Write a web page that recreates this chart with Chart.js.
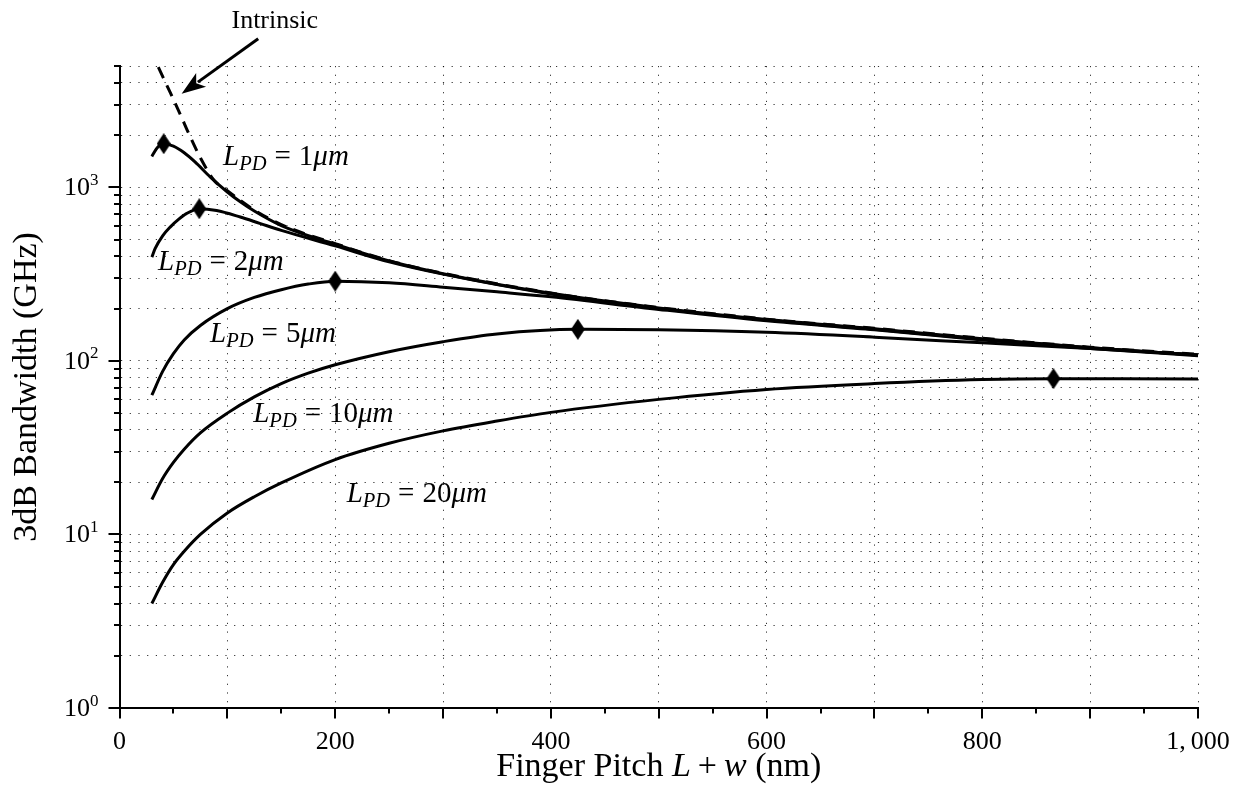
<!DOCTYPE html>
<html>
<head>
<meta charset="utf-8">
<script src="https://cdn.jsdelivr.net/npm/chart.js@4.4.0/dist/chart.umd.min.js"></script>
<style>
  html, body { margin: 0; padding: 0; background: #fff; }
  #wrap { width: 1241px; height: 789px; }
</style>
</head>
<body>
<div id="wrap"><canvas id="bw" width="1241" height="789"></canvas></div>
<script>
// values: finger pitch (nm) -> 3dB bandwidth (GHz)
const intrinsicPitch = [36, 47, 56, 65, 75, 88, 100, 125, 150, 200, 250, 300, 400, 500, 600, 700, 800, 900, 1000];
const intrinsicBw    = [4920, 3520, 2660, 1990, 1480, 1090, 955, 740, 610, 474, 378, 320, 246, 203, 174, 154, 135, 120, 109];

const l1Pitch = [30, 35, 41, 50, 60, 70, 84, 100, 112, 125, 150, 200, 250, 300, 400, 500, 600, 700, 800, 900, 1000];
const l1Bw    = [1506, 1690, 1783, 1725, 1580, 1400, 1150, 940, 825, 730, 602, 470, 376, 318, 245, 202, 173, 153, 134, 119, 108];

const l2Pitch = [30, 33, 40, 47, 55, 62, 74, 90, 112, 130, 150, 200, 250, 300, 400, 500, 600, 700, 800, 900, 1000];
const l2Bw    = [396, 443, 525, 590, 655, 705, 753, 735, 674, 620, 565, 460, 372, 316, 243, 200, 172, 152, 133, 119, 108];

const l5Pitch = [30, 40, 50, 60, 75, 100, 125, 150, 175, 200, 250, 300, 350, 400, 500, 600, 700, 800, 900, 1000];
const l5Bw    = [63.4, 87, 110, 132, 160, 200, 232, 257, 277, 288, 282, 266, 250, 234, 198, 170, 151, 132, 118, 107];

const l10Pitch = [30, 40, 50, 60, 75, 100, 125, 150, 175, 200, 250, 300, 350, 425, 500, 600, 700, 800, 900, 1000];
const l10Bw    = [15.9, 21, 26, 31, 38.5, 50, 62, 74, 85, 95, 113, 129, 143, 152, 151, 146, 137, 127, 118, 108];

const l20Pitch = [30, 40, 50, 60, 75, 100, 125, 150, 200, 250, 300, 350, 400, 500, 600, 700, 800, 866, 930, 1000];
const l20Bw    = [4.0, 5.3, 6.7, 8.0, 10.0, 13.3, 16.5, 19.8, 27, 33.5, 39.5, 45, 50.5, 60, 68.5, 74, 78, 79, 78.9, 78.6];

// maximum of each curve (diamonds)
const peakPitch = [41, 74, 200, 425, 866];
const peakBw    = [1783, 753, 288, 152, 79];

// axes
const xGridTicks  = [0, 100, 200, 300, 400, 500, 600, 700, 800, 900, 1000];
const xMinorTicks = [50, 150, 250, 350, 450, 550, 650, 750, 850, 950];
const xTickLabels = [0, 200, 400, 600, 800, 1000];
const yGridTicks  = [1, 2, 3, 4, 5, 6, 7, 8, 9, 10, 20, 30, 40, 50, 60, 70, 80, 90,
                     100, 200, 300, 400, 500, 600, 700, 800, 900, 1000, 2000, 3000, 4000, 5000];
const yMajorTicks = [1, 10, 100, 1000];
const yTickExp    = ['0', '1', '2', '3'];

// curve labels (L_PD in um), anchored in data units
const lpdText = ['1', '2', '5', '10', '20'];
const lpdX    = [96, 35.7, 84, 124, 210.6];
const lpdY    = [1337, 332, 128.5, 44.5, 15.4];

const FONT = '"Liberation Serif", "Times New Roman", serif';

function pts(xs, ys) {
  return xs.map((x, i) => ({ x: x, y: ys[i] }));
}

function diamond(w, h) {
  const c = document.createElement('canvas');
  c.width = w; c.height = h;
  const g = c.getContext('2d');
  g.fillStyle = '#000';
  g.beginPath();
  g.moveTo(w / 2, 0); g.lineTo(w, h / 2); g.lineTo(w / 2, h); g.lineTo(0, h / 2);
  g.closePath();
  g.fill();
  return c;
}

function runWidth(ctx, pieces) {
  let w = 0;
  pieces.forEach(p => {
    ctx.font = (p.it ? 'italic ' : '') + p.size + 'px ' + FONT;
    w += ctx.measureText(p.t).width + (p.gap || 0);
  });
  return w;
}

function drawRun(ctx, pieces, x, y) {
  let cx = x;
  pieces.forEach(p => {
    ctx.font = (p.it ? 'italic ' : '') + p.size + 'px ' + FONT;
    ctx.fillText(p.t, cx, y + (p.dy || 0));
    cx += ctx.measureText(p.t).width + (p.gap || 0);
  });
}

const decorations = {
  id: 'decorations',
  afterDraw(chart) {
    const ctx = chart.ctx;
    const xs = chart.scales.x, ys = chart.scales.y;
    const area = chart.chartArea;
    ctx.save();
    ctx.fillStyle = '#000';
    ctx.strokeStyle = '#000';
    ctx.lineWidth = 2;

    // tick marks, outside the axes
    ctx.beginPath();
    xGridTicks.forEach(v => {
      const px = Math.round(xs.getPixelForValue(v));
      ctx.moveTo(px, area.bottom); ctx.lineTo(px, area.bottom + 10.5);
    });
    xMinorTicks.forEach(v => {
      const px = Math.round(xs.getPixelForValue(v));
      ctx.moveTo(px, area.bottom); ctx.lineTo(px, area.bottom + 5.5);
    });
    yGridTicks.forEach(v => {
      const py = Math.round(ys.getPixelForValue(v));
      const len = yMajorTicks.includes(v) ? 11 : 5.5;
      ctx.moveTo(area.left, py); ctx.lineTo(area.left - len, py);
    });
    ctx.stroke();

    // x tick labels
    ctx.textAlign = 'center';
    ctx.textBaseline = 'alphabetic';
    ctx.font = '26px ' + FONT;
    xTickLabels.forEach(v => {
      const txt = v >= 1000 ? '1,\u2009000' : String(v);
      ctx.fillText(txt, xs.getPixelForValue(v), area.bottom + 41);
    });

    // y tick labels 10^k
    ctx.textAlign = 'left';
    yMajorTicks.forEach((v, i) => {
      const py = ys.getPixelForValue(v);
      ctx.font = '17px ' + FONT;
      const ws = ctx.measureText(yTickExp[i]).width;
      ctx.font = '26px ' + FONT;
      const wb = ctx.measureText('10').width;
      const right = area.left - 21;
      ctx.fillText('10', right - ws - wb, py + 8);
      ctx.font = '17px ' + FONT;
      ctx.fillText(yTickExp[i], right - ws, py - 2.5);
    });

    // axis titles
    ctx.font = '34px ' + FONT;
    ctx.textAlign = 'center';
    ctx.save();
    ctx.translate(36, (area.top + area.bottom) / 2);
    ctx.rotate(-Math.PI / 2);
    ctx.fillText('3dB Bandwidth (GHz)', 0, 0);
    ctx.restore();

    ctx.textAlign = 'left';
    const xTitle = [
      { t: 'Finger Pitch ', size: 34 },
      { t: 'L', size: 34, it: true, gap: 7 },
      { t: '+', size: 34, gap: 7 },
      { t: 'w', size: 34, it: true },
      { t: ' (nm)', size: 34 }
    ];
    const tw = runWidth(ctx, xTitle);
    drawRun(ctx, xTitle, (area.left + area.right) / 2 - tw / 2, 776);

    // curve labels
    lpdText.forEach((n, i) => {
      const px = xs.getPixelForValue(lpdX[i]);
      const py = ys.getPixelForValue(lpdY[i]);
      drawRun(ctx, [
        { t: 'L', size: 29, it: true },
        { t: 'PD', size: 20.5, it: true, dy: 5, gap: 8 },
        { t: '=', size: 29, gap: 8 },
        { t: n, size: 29 },
        { t: '\u03bcm', size: 29, it: true }
      ], px, py);
    });

    // "Intrinsic" with arrow
    ctx.font = '26px ' + FONT;
    ctx.textAlign = 'center';
    ctx.fillText('Intrinsic', xs.getPixelForValue(144), ys.getPixelForValue(8330));

    const tx = xs.getPixelForValue(128.6), ty = ys.getPixelForValue(7170);
    const hx = xs.getPixelForValue(57.6), hy = ys.getPixelForValue(3457);
    const dx = hx - tx, dy = hy - ty;
    const len = Math.hypot(dx, dy);
    const ux = dx / len, uy = dy / len;
    const head = 24, half = 8.5;
    ctx.lineWidth = 3;
    ctx.beginPath();
    ctx.moveTo(tx, ty);
    ctx.lineTo(hx - ux * (head - 4), hy - uy * (head - 4));
    ctx.stroke();
    const bx = hx - ux * head, by = hy - uy * head;
    ctx.beginPath();
    ctx.moveTo(hx, hy);
    ctx.lineTo(bx - uy * half, by + ux * half);
    ctx.lineTo(hx - ux * (head - 6), hy - uy * (head - 6));
    ctx.lineTo(bx + uy * half, by - ux * half);
    ctx.closePath();
    ctx.fill();

    ctx.restore();
  }
};

const curve = (data, extra) => Object.assign({
  data: data,
  borderColor: '#000',
  borderWidth: 3,
  pointRadius: 0,
  fill: false,
  cubicInterpolationMode: 'monotone'
}, extra || {});

new Chart(document.getElementById('bw'), {
  type: 'line',
  data: {
    datasets: [
      {
        label: 'peak',
        data: pts(peakPitch, peakBw),
        showLine: false,
        pointStyle: diamond(14, 21),
        pointRadius: 10,
        borderColor: '#000',
        backgroundColor: '#000'
      },
      curve(pts(l1Pitch, l1Bw), { label: 'L_PD = 1um' }),
      curve(pts(l2Pitch, l2Bw), { label: 'L_PD = 2um' }),
      curve(pts(l5Pitch, l5Bw), { label: 'L_PD = 5um' }),
      curve(pts(l10Pitch, l10Bw), { label: 'L_PD = 10um' }),
      curve(pts(l20Pitch, l20Bw), { label: 'L_PD = 20um' }),
      curve(pts(intrinsicPitch, intrinsicBw), { label: 'Intrinsic', borderDash: [12, 8], borderWidth: 3 })
    ]
  },
  options: {
    responsive: false,
    animation: false,
    devicePixelRatio: 1,
    events: [],
    layout: { autoPadding: false, padding: { top: 66, right: 43, left: 0, bottom: 0 } },
    plugins: { legend: { display: false }, title: { display: false }, tooltip: { enabled: false } },
    scales: {
      x: {
        type: 'linear',
        min: 0,
        max: 1000,
        afterBuildTicks: s => { s.ticks = xGridTicks.map(v => ({ value: v })); },
        afterFit: s => { s.height = 81; },
        ticks: { display: false },
        grid: { color: 'rgba(0,0,0,0.8)', lineWidth: 1, drawTicks: false },
        border: { display: true, color: '#000', width: 2, dash: [1.2, 7.5] }
      },
      y: {
        type: 'logarithmic',
        min: 1,
        max: 5000,
        afterBuildTicks: s => { s.ticks = yGridTicks.map(v => ({ value: v, major: yMajorTicks.includes(v) })); },
        afterFit: s => { s.width = 119.5; },
        ticks: { display: false },
        grid: { color: 'rgba(0,0,0,0.8)', lineWidth: 1, drawTicks: false },
        border: { display: true, color: '#000', width: 2, dash: [1.2, 7.5] }
      }
    }
  },
  plugins: [decorations]
});
</script>
</body>
</html>
